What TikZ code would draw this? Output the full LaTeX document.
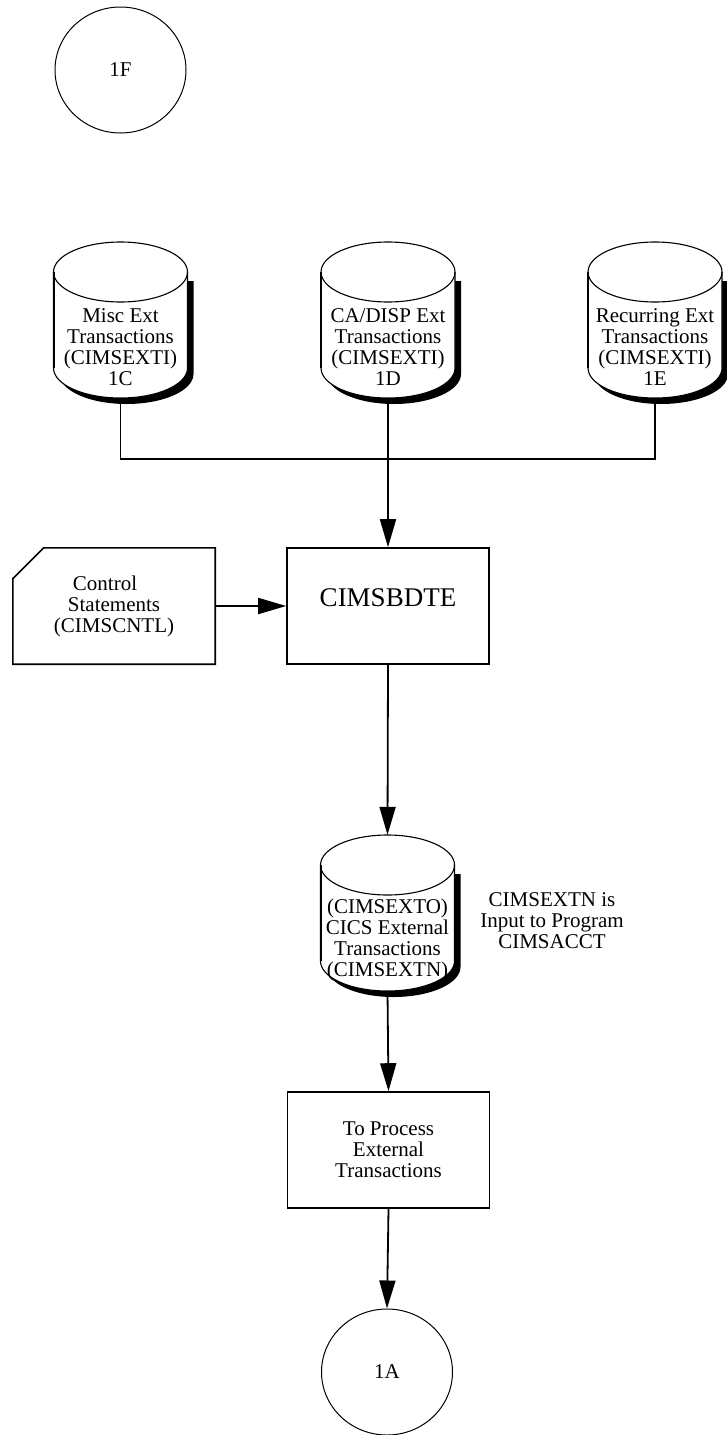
\documentclass[tikz,border=0pt]{standalone}
\usepackage{fontspec}
\setmainfont{Liberation Serif}
\usepackage{tikz}
\usetikzlibrary{arrows.meta,shapes.geometric}

\tikzset{
  filebody/.style={minimum width=134pt, minimum height=156pt, inner sep=0pt},
  proc/.style={draw, line width=1.6pt, minimum width=202pt, minimum height=116pt, align=center},
  offpage/.style={draw, ellipse, line width=1pt, minimum width=131pt, minimum height=126pt},
  flow/.style={line width=1.8pt, -{Triangle[length=28pt,width=16pt]}},
}

% disk file: name, centre x, top y, text
\newcommand{\datafile}[4]{%
  \begin{scope}[shift={(#2,#3)}]
    \fill (-61,-132) arc[start angle=180, end angle=360, x radius=67, y radius=30] -- (73,-39) -- (-61,-39) -- cycle;
    \filldraw[fill=white, line width=1.1pt] (-67,-30) -- (-67,-126) arc[start angle=180, end angle=360, x radius=67, y radius=30]
      -- (67,-30) arc[start angle=0, end angle=180, x radius=67, y radius=30] -- cycle;
    \draw[line width=1.1pt] (-67,-30) arc[start angle=180, end angle=360, x radius=67, y radius=30];
    \draw[line width=2pt] (-67,-30) -- (-67,-126);
    \node[filebody] (#1) at (0,-78) {};
    \node[align=center] (#1txt) at (0,-105) {#4};
  \end{scope}}

\begin{document}
\begin{tikzpicture}[x=1pt, y=1pt, font=\fontsize{21}{21}\selectfont]
    \useasboundingbox (0,0) rectangle (727,-1435);

    \node[offpage] (1F) at (120.5,-70) {1F};

    \datafile{1C}{120.5}{-242}{Misc Ext\\Transactions\\(CIMSEXTI)\\1C}
    \datafile{1D}{388}{-242}{CA/DISP Ext\\Transactions\\(CIMSEXTI)\\1D}
    \datafile{1E}{655}{-242}{Recurring Ext\\Transactions\\(CIMSEXTI)\\1E}

    \coordinate (join) at (388,-459);

    \node[proc, font=\fontsize{27}{27}\selectfont, text height=18pt, text depth=18pt] (bdte) at (388,-606) {CIMSBDTE};
    \node[minimum width=202pt, minimum height=116pt, align=center] (ctl) at (114,-606)
        {Control\hspace*{18pt}\\Statements\hspace*{12pt}\\(CIMSCNTL)};
    \draw[line width=1.6pt] ([xshift=31pt]ctl.north west) -- (ctl.north east) -- (ctl.south east)
        -- (ctl.south west) -- ([yshift=-31pt]ctl.north west) -- cycle;

    \datafile{extn}{387.5}{-835}{(CIMSEXTO)\\CICS External\\Transactions\\(CIMSEXTN)}
    \node[align=center] (note) at (552,-921) {CIMSEXTN is\\Input to Program\\CIMSACCT};

    \node[proc] (proc) at (388.5,-1150) {To Process\\External\\Transactions};
    \node[offpage] (1A) at (387,-1372) {1A};

    \draw[line width=1.6pt] (1C.south) |- (join) -| (1E.south);
    \draw[flow] (1D.south) -- (bdte.north);
    \draw[flow] (ctl.east) -- (bdte.west);
    \draw[flow] (bdte.south) -- (extn.north);
    \draw[flow] (extn.south) -- (proc.north);
    \draw[flow] (proc.south) -- (1A.north);
\end{tikzpicture}
\end{document}
